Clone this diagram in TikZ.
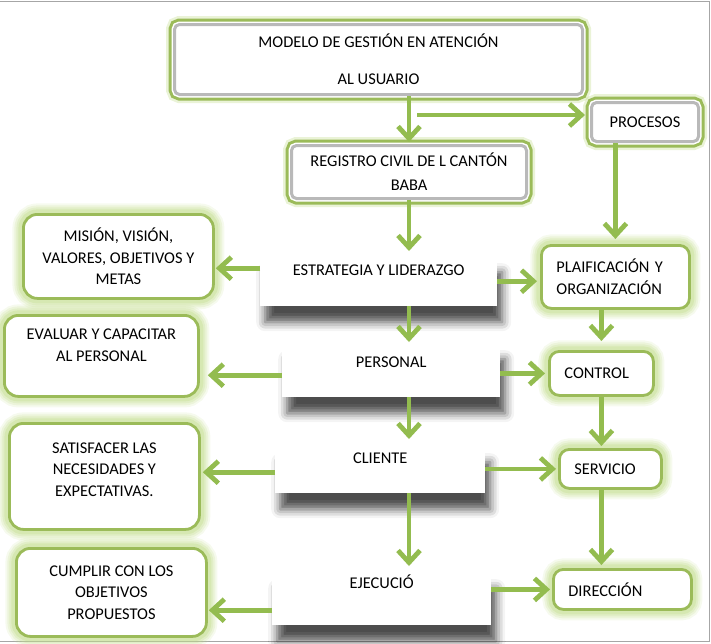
\documentclass[tikz,border=0pt]{standalone}
\usepackage{fontspec}
\setmainfont{Carlito}
\usetikzlibrary{arrows.meta,shadows.blur}
\definecolor{olv}{HTML}{9BBB59}
\definecolor{glowc}{HTML}{C2DC8C}
\definecolor{arrc}{HTML}{93BC4F}
\tikzset{
 txt/.style={font=\fontsize{16.4}{21.5}\selectfont, text=black},
 glow/.style={preaction={draw=glowc, line width=22pt, opacity=0.15},
   preaction={draw=glowc, line width=18pt, opacity=0.2},
   preaction={draw=glowc, line width=14pt, opacity=0.25},
   preaction={draw=glowc, line width=10pt, opacity=0.35}},
 gbox/.style={txt, anchor=north west, inner sep=0pt, align=center, fill=white, draw=olv, line width=2.8pt, rounded corners=14pt, glow},
 rbox/.style={gbox, rounded corners=10pt, align=left, inner xsep=15pt},
 bevel/.style={txt, anchor=north west, inner sep=0pt, align=center, fill=white, draw=gray!55, line width=3pt, rounded corners=5pt,
   preaction={draw=glowc, line width=17pt, opacity=0.35},
   preaction={draw=olv, line width=12pt},
   preaction={draw=white, line width=6pt}},
 mid/.style={txt, anchor=north west, inner sep=0pt, fill=white, blur shadow={shadow xshift=5pt, shadow yshift=-16pt, shadow blur radius=9pt, shadow opacity=70}},
 arr/.style={draw=arrc, line width=4.8pt, -{Straight Barb[length=12pt,width=22pt]}, shorten >=5pt},
}
\begin{document}
\begin{tikzpicture}[x=1pt,y=-1pt]
\useasboundingbox (0,0) rectangle (711,643);
\draw[gray!70, line width=1.5pt] (0,1.5) -- (709.5,1.5) -- (709.5,641.5) -- (0,641.5);

% top bevel boxes
\node[bevel, minimum width=408pt, minimum height=70pt] (modelo) at (173,23) {MODELO DE GESTIÓN EN ATENCIÓN\\[15.5pt]AL USUARIO};
\node[bevel, minimum width=235pt, minimum height=53pt] (reg) at (290,144) {REGISTRO CIVIL DE L CANTÓN\\[2.5pt]BABA};
\node[bevel, minimum width=107pt, minimum height=39pt] (proc) at (590,101) {PROCESOS};

% left boxes
\node[gbox, minimum width=190pt, minimum height=84pt] (mis) at (22,213) {MISIÓN, VISIÓN,\\VALORES, OBJETIVOS Y\\METAS};
\node[gbox, minimum width=194pt, minimum height=81pt] (eval) at (3,314) {EVALUAR Y CAPACITAR\\AL PERSONAL\\\mbox{}};
\node[gbox, minimum width=190pt, minimum height=106pt] (satis) at (8,422) {SATISFACER LAS\\NECESIDADES Y\\EXPECTATIVAS.\\[-8pt]\mbox{}};
\node[gbox, minimum width=190pt, minimum height=88pt] (cump) at (15,547) {CUMPLIR CON LOS\\OBJETIVOS\\PROPUESTOS};

% middle boxes
\node[mid, minimum width=237pt, text height=19pt, text depth=31pt] (estr) at (260,256) {ESTRATEGIA Y LIDERAZGO};
\node[mid, minimum width=218pt, text height=24pt, text depth=30pt] (pers) at (282,343) {PERSONAL};
\node[mid, minimum width=210pt, text height=17pt, text depth=30pt] (clie) at (275,446) {CLIENTE};
\node[mid, minimum width=219pt, text height=16pt, text depth=37pt] (ejec) at (272,572) {EJECUCIÓ};

% right boxes
\node[rbox, text width=118pt, minimum height=63pt] (plaif) at (540,244) {PLAIFICACIÓN Y\\ORGANIZACIÓN};
\node[rbox, text width=74pt, minimum height=44pt] (control) at (548,350) {CONTROL};
\node[rbox, text width=72pt, minimum height=39pt] (serv) at (558,448) {SERVICIO};
\node[rbox, text width=108pt, minimum height=40pt] (dir) at (552,568) {DIRECCIÓN};

% arrows top
\draw[arr, shorten >=2pt] (reg.north |- modelo.south) -- (reg.north);
\path (reg.north |- proc.west) ++(8,-7) coordinate (br);
\draw[arr] (br) -- (br -| proc.west);
\draw[arr] (plaif.north |- proc.south) -- (plaif.north);

% middle column
\draw[arr] (reg.south) -- (reg.south |- estr.north);
\draw[arr, shorten >=1pt] (reg.south |- estr.south) -- (reg.south |- pers.north);
\draw[arr, shorten >=7pt] (reg.south |- pers.south) -- (reg.south |- clie.north);
\draw[arr, shorten >=6pt] (reg.south |- clie.south) -- (reg.south |- ejec.north);

% left arrows
\path ([yshift=13pt]estr.west) coordinate (l1);
\path ([yshift=-5pt]pers.west) coordinate (l2);
\path ([yshift=-2.5pt]clie.west) coordinate (l3);
\path ([yshift=-11.5pt]ejec.west) coordinate (l4);
\draw[arr, shorten >=1pt] (l1) -- (l1 -| mis.east);
\draw[arr, shorten >=8pt] (l2) -- (l2 -| eval.east);
\draw[arr, shorten >=2pt] (l3) -- (l3 -| satis.east);
\draw[arr, shorten >=1pt] (l4) -- (l4 -| cump.east);

% right arrows
\draw[arr, shorten >=3pt] (estr.east) -- (estr.east -| plaif.west);
\draw[arr, shorten >=3pt] (control.west -| pers.east) -- (control.west);
\draw[arr, shorten >=2pt] (serv.west -| clie.east) -- (serv.west);
\draw[arr, shorten >=2pt] (dir.west -| ejec.east) -- (dir.west);

% right column
\draw[arr, shorten >=9pt] (control.north |- plaif.south) -- (control.north);
\draw[arr, shorten >=2pt] (control.south) -- (control.south |- serv.north);
\draw[arr, shorten >=3pt] (control.south |- serv.south) -- (control.south |- dir.north);
\end{tikzpicture}
\end{document}
